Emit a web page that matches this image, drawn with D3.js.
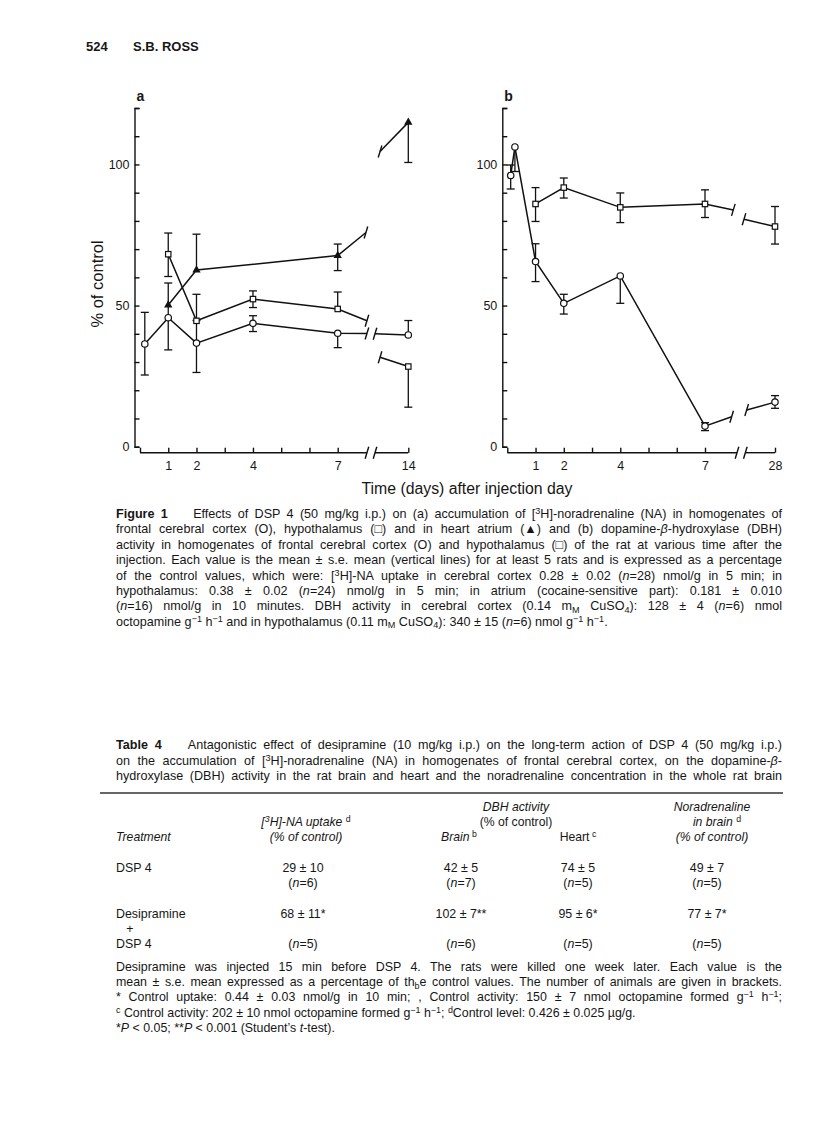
<!DOCTYPE html>
<html>
<head>
<meta charset="utf-8">
<script src="https://cdn.jsdelivr.net/npm/d3@7"></script>
<style>
  body { margin: 0; background: #fff; }
  svg text { font-family: "Liberation Sans", Arial, sans-serif; fill: #161616; white-space: pre; }
</style>
</head>
<body>
<div id="page"></div>
<script>
// ---- panel a : [3H]-NA uptake, % of control ----
var daysCortexA = [0.17, 1, 2, 4, 7, 14];
var cortexA = [36.4, 45.7, 36.7, 43.7, 40.2, 39.6];
var cortexAUp = [11.2, 12.3, 8, 2.7, 0, 5.1];
var cortexADown = [11, 11.4, 10.4, 2.9, 5.1, 0];

var daysHypoA = [1, 2, 4, 7, 14];
var hypoA = [68.2, 44.6, 52.3, 48.8, 28.4];
var hypoAUp = [7.5, 9.4, 2.9, 6, 0];
var hypoADown = [7.9, 0, 3, 0, 14.4];

var daysHeartA = [1, 2, 7, 14];
var heartA = [50.2, 62.6, 67.7, 114.9];
var heartAUp = [0, 12.7, 4.1, 0];
var heartADown = [0, 0, 5.3, 14.2];

// line ends either side of the axis break, [day, value]
var breakCortexA = [[9.9, 40.1], [10.7, 40.0]];
var breakHypoA = [[9.9, 44.6], [11.2, 31.7]];
var breakHeartA = [[9.8, 75.9], [11.2, 104.6]];
var axisBreakA = [9.9, 10.7];

// ---- panel b : DBH activity, % of control ----
var daysCortexB = [0.12, 0.27, 1, 2, 4, 7, 28];
var cortexB = [96.1, 106.2, 65.6, 50.8, 60.5, 7.3, 15.8];
var cortexBUp = [3.7, 0, 6.3, 3.2, 0, 1.2, 2.3];
var cortexBDown = [4.8, 8.7, 7.1, 3.8, 9.7, 1.6, 2.2];

var daysHypoB = [1, 2, 4, 7, 28];
var hypoB = [86, 91.8, 84.8, 86, 78];
var hypoBUp = [5.8, 3.4, 5.1, 5, 7.1];
var hypoBDown = [6.2, 3.7, 5.4, 4.8, 6.2];

var breakCortexB = [[15, 10.6], [19.5, 13]];
var breakHypoB = [[15.5, 83.9], [18.7, 80.6]];
var axisBreakB = [16.6, 19.1];

var yTicks = d3.range(0, 121, 10);
var yLabels = [0, 50, 100];
var xTicksA = [0, 1, 2, 3, 4, 5, 6, 7, 14];
var xLabelsA = [1, 2, 4, 7, 14];
var xTicksB = [0, 1, 2, 3, 4, 5, 6, 7, 28];
var xLabelsB = [1, 2, 4, 7, 28];

// ---- text blocks ----
var figCaption = [
  "<b>Figure 1</b>    Effects of DSP 4 (50 mg/kg i.p.) on (a) accumulation of [<sup>3</sup>H]-noradrenaline (NA) in homogenates of",
  "frontal cerebral cortex (O), hypothalamus (\u25A1) and in heart atrium (\u25B2) and (b) dopamine-<i>\u03B2</i>-hydroxylase (DBH)",
  "activity in homogenates of frontal cerebral cortex (O) and hypothalamus (\u25A1) of the rat at various time after the",
  "injection. Each value is the mean \u00B1 s.e. mean (vertical lines) for at least 5 rats and is expressed as a percentage",
  "of the control values, which were: [<sup>3</sup>H]-NA uptake in cerebral cortex 0.28 \u00B1 0.02 (<i>n</i>=28) nmol/g in 5 min; in",
  "hypothalamus: 0.38 \u00B1 0.02 (<i>n</i>=24) nmol/g in 5 min; in atrium (cocaine-sensitive part): 0.181 \u00B1 0.010",
  "(<i>n</i>=16) nmol/g in 10 minutes. DBH activity in cerebral cortex (0.14 m<sub>M</sub> CuSO<sub>4</sub>): 128 \u00B1 4 (<i>n</i>=6) nmol",
  "octopamine g<sup>\u22121</sup> h<sup>\u22121</sup> and in hypothalamus (0.11 m<sub>M</sub> CuSO<sub>4</sub>): 340 \u00B1 15 (<i>n</i>=6) nmol g<sup>\u22121</sup> h<sup>\u22121</sup>."
];
var tableCaption = [
  "<b>Table 4</b>    Antagonistic effect of desipramine (10 mg/kg i.p.) on the long-term action of DSP 4 (50 mg/kg i.p.)",
  "on the accumulation of [<sup>3</sup>H]-noradrenaline (NA) in homogenates of frontal cerebral cortex, on the dopamine-<i>\u03B2</i>-",
  "hydroxylase (DBH) activity in the rat brain and heart and the noradrenaline concentration in the whole rat brain"
];
var treatments = [["DSP 4"], ["Desipramine", "   +", "DSP 4"]];
var uptake = ["29 \u00B1 10", "68 \u00B1 11*"];
var dbhBrain = ["42 \u00B1 5", "102 \u00B1 7**"];
var dbhHeart = ["74 \u00B1 5", "95 \u00B1 6*"];
var naBrain = ["49 \u00B1 7", "77 \u00B1 7*"];
var nUptake = [6, 5];
var nBrain = [7, 6];
var nHeart = [5, 5];
var nNA = [5, 5];
var footnotes = [
  "Desipramine was injected 15 min before DSP 4. The rats were killed one week later. Each value is the",
  "mean \u00B1 s.e. mean expressed as a percentage of th<sub>b</sub>e control values. The number of animals are given in brackets.",
  "* Control uptake: 0.44 \u00B1 0.03 nmol/g in 10 min; , Control activity: 150 \u00B1 7 nmol octopamine formed g<sup>\u22121</sup> h<sup>\u22121</sup>;",
  "<sup>c</sup> Control activity: 202 \u00B1 10 nmol octopamine formed g<sup>\u22121</sup> h<sup>\u22121</sup>; <sup>d</sup>Control level: 0.426 \u00B1 0.025 \u00B5g/g.",
  "*<i>P</i> &lt; 0.05; **<i>P</i> &lt; 0.001 (Student\u2019s <i>t</i>-test)."
];

var W = 816, H = 1123;
var svg = d3.select("#page").append("svg")
    .attr("width", W)
    .attr("height", H);
svg.append("rect").attr("width", W).attr("height", H).attr("fill", "#fff");

// small markup -> tspans
function rich(sel, str) {
  var parts = str.replace(/&lt;/g, "<<").split(/(<\/?(?:b|i|sup|sub)>)/);
  var st = {b: 0, i: 0, sup: 0, sub: 0}, shift = 0;
  parts.forEach(function(p) {
    if (!p) return;
    var m = p.match(/^<(\/?)(b|i|sup|sub)>$/);
    if (m) { st[m[2]] = m[1] ? 0 : 1; return; }
    var target = st.sup ? -4 : (st.sub ? 2.5 : 0);
    var t = sel.append("tspan").text(p.replace(/<</g, "<")).attr("dy", target - shift);
    shift = target;
    if (st.b) t.attr("font-weight", "bold");
    if (st.i) t.attr("font-style", "italic");
    if (st.sup || st.sub) t.attr("font-size", "0.72em");
  });
}

// justify a line by widening the word gaps
function justify(t, width) {
  var node = t.node();
  var len = node.getComputedTextLength();
  var spaces = (node.textContent.match(/ /g) || []).length;
  if (!spaces) return;
  t.style("word-spacing", ((width - len) / spaces) + "px");
  if (Math.abs(node.getComputedTextLength() - width) > 3) {
    t.style("word-spacing", null)
      .attr("textLength", width).attr("lengthAdjust", "spacing");
  }
}

// flags: which lines are set full width
function paragraph(lines, x, y0, lh, width, size, flags) {
  lines.forEach(function(s, i) {
    var t = svg.append("text")
      .attr("x", x)
      .attr("y", y0 + i * lh)
      .attr("font-size", size);
    rich(t, s);
    if (flags[i]) justify(t, width);
  });
}

// ---- running head ----
svg.append("text").attr("x", 86).attr("y", 51).attr("font-size", 13)
  .attr("font-weight", "bold").text("524");
svg.append("text").attr("x", 133).attr("y", 51).attr("font-size", 13)
  .attr("font-weight", "bold").text("S.B. ROSS");

// ---- chart panels ----
var y = d3.scaleLinear().domain([0, 120]).range([446.7, 108]);
var xA = d3.scaleLinear().domain([0, 7, 14]).range([140, 337.7, 408.3]);
var xB = d3.scaleLinear().domain([0, 7, 28]).range([507.3, 705, 775]);

function zip(days, vals, up, down) {
  return days.map(function(d, i) {
    return {day: d, v: vals[i], up: up[i], down: down[i]};
  });
}

function slash(g, px, py, h) {
  g.append("line")
    .attr("x1", px - h * 0.3).attr("y1", py + h)
    .attr("x2", px + h * 0.3).attr("y2", py - h)
    .attr("stroke", "#111").attr("stroke-width", 1.4);
}

function panel(opts) {
  var x = opts.x;
  var g = svg.append("g");

  // y axis, ticks pointing inside
  var yAxis = d3.axisLeft(y)
    .tickValues(yTicks)
    .tickSize(-5)
    .tickPadding(5)
    .tickFormat(function(d) { return yLabels.indexOf(d) >= 0 ? d : ""; });
  var ya = g.append("g")
    .attr("transform", "translate(" + opts.yAxisX + ",0)")
    .call(yAxis);
  ya.attr("font-family", null).attr("font-size", null);
  ya.selectAll("path, line").attr("stroke", "#111").attr("stroke-width", 1.4);
  ya.selectAll("text").attr("font-size", 12.5).attr("fill", "#161616");

  // x axis, broken
  var axisY = 452.7;
  var xAxis = d3.axisBottom(x)
    .tickValues(opts.xTicks)
    .tickSize(-5)
    .tickPadding(8)
    .tickFormat(function(d) { return opts.xLabels.indexOf(d) >= 0 ? d : ""; });
  var xa = g.append("g")
    .attr("transform", "translate(0," + axisY + ")")
    .call(xAxis);
  xa.attr("font-family", null).attr("font-size", null);
  xa.select(".domain").remove();
  xa.selectAll("line").attr("stroke", "#111").attr("stroke-width", 1.4);
  xa.selectAll("text").attr("font-size", 12.5).attr("fill", "#161616");
  var last = opts.xTicks[opts.xTicks.length - 1];
  [[0, opts.axisBreak[0]], [opts.axisBreak[1], last]].forEach(function(seg) {
    g.append("line")
      .attr("x1", x(seg[0])).attr("x2", x(seg[1]))
      .attr("y1", axisY).attr("y2", axisY)
      .attr("stroke", "#111").attr("stroke-width", 1.4);
  });
  opts.axisBreak.forEach(function(d) { slash(g, x(d), axisY, 6); });

  // panel letter
  g.append("text")
    .attr("x", opts.yAxisX + 2).attr("y", 101)
    .attr("font-size", 14).attr("font-weight", "bold")
    .text(opts.letter);

  var line = d3.line().x(function(d) { return x(d.day); }).y(function(d) { return y(d.v); });

  opts.series.forEach(function(s) {
    var pts = zip(s.days, s.vals, s.up, s.down);
    var n = pts.length;
    var left = pts.slice(0, n - 1).concat([{day: s.brk[0][0], v: s.brk[0][1]}]);
    var right = [{day: s.brk[1][0], v: s.brk[1][1]}, pts[n - 1]];
    [left, right].forEach(function(p) {
      g.append("path").datum(p)
        .attr("d", line)
        .attr("fill", "none")
        .attr("stroke", "#111")
        .attr("stroke-width", 1.5);
    });
    s.brk.forEach(function(b) { slash(g, x(b[0]), y(b[1]), 6); });

    // error bars
    var eb = g.selectAll(null).data(pts).enter().append("g");
    [["up", 1], ["down", -1]].forEach(function(side) {
      var k = side[0], sg = side[1];
      var sub = eb.filter(function(d) { return d[k] > 0; });
      sub.append("line")
        .attr("x1", function(d) { return x(d.day); })
        .attr("x2", function(d) { return x(d.day); })
        .attr("y1", function(d) { return y(d.v); })
        .attr("y2", function(d) { return y(d.v + sg * d[k]); })
        .attr("stroke", "#111").attr("stroke-width", 1.3);
      sub.append("line")
        .attr("x1", function(d) { return x(d.day) - 4; })
        .attr("x2", function(d) { return x(d.day) + 4; })
        .attr("y1", function(d) { return y(d.v + sg * d[k]); })
        .attr("y2", function(d) { return y(d.v + sg * d[k]); })
        .attr("stroke", "#111").attr("stroke-width", 1.3);
    });

    // markers
    var mk = g.selectAll(null).data(pts).enter();
    if (s.shape === "circle") {
      mk.append("circle")
        .attr("cx", function(d) { return x(d.day); })
        .attr("cy", function(d) { return y(d.v); })
        .attr("r", 3.2)
        .attr("fill", "#fff").attr("stroke", "#111").attr("stroke-width", 1.2);
    } else if (s.shape === "square") {
      mk.append("rect")
        .attr("x", function(d) { return x(d.day) - 2.7; })
        .attr("y", function(d) { return y(d.v) - 2.7; })
        .attr("width", 5.4).attr("height", 5.4)
        .attr("fill", "#fff").attr("stroke", "#111").attr("stroke-width", 1.2);
    } else {
      mk.append("path")
        .attr("transform", function(d) { return "translate(" + x(d.day) + "," + y(d.v) + ")"; })
        .attr("d", d3.symbol(d3.symbolTriangle, 30))
        .attr("fill", "#111");
    }
  });
}

panel({
  letter: "a", x: xA, yAxisX: 134.5, xTicks: xTicksA, xLabels: xLabelsA, axisBreak: axisBreakA,
  series: [
    {shape: "circle", days: daysCortexA, vals: cortexA, up: cortexAUp, down: cortexADown, brk: breakCortexA},
    {shape: "square", days: daysHypoA, vals: hypoA, up: hypoAUp, down: hypoADown, brk: breakHypoA},
    {shape: "triangle", days: daysHeartA, vals: heartA, up: heartAUp, down: heartADown, brk: breakHeartA}
  ]
});
panel({
  letter: "b", x: xB, yAxisX: 502.3, xTicks: xTicksB, xLabels: xLabelsB, axisBreak: axisBreakB,
  series: [
    {shape: "circle", days: daysCortexB, vals: cortexB, up: cortexBUp, down: cortexBDown, brk: breakCortexB},
    {shape: "square", days: daysHypoB, vals: hypoB, up: hypoBUp, down: hypoBDown, brk: breakHypoB}
  ]
});

// axis titles
svg.append("text")
  .attr("transform", "translate(103,284) rotate(-90)")
  .attr("text-anchor", "middle")
  .attr("font-size", 16.5)
  .text("% of control");
svg.append("text")
  .attr("x", 467).attr("y", 494)
  .attr("text-anchor", "middle")
  .attr("font-size", 15.8)
  .text("Time (days) after injection day");

// ---- figure legend ----
paragraph(figCaption, 116, 518, 15.4, 666, 12.6, [1, 1, 1, 1, 1, 1, 1, 0]);

// ---- table 4 ----
paragraph(tableCaption, 116, 749, 15.6, 666, 12.6, [1, 1, 1]);

svg.append("line")
  .attr("x1", 100).attr("x2", 783)
  .attr("y1", 793).attr("y2", 793)
  .attr("stroke", "#333").attr("stroke-width", 1.3);

var colUp = 303, colBrain = 461, colHeart = 578, colNA = 707, colDBH = 516;
function cell(x, yy, str, anchor, size) {
  var t = svg.append("text").attr("x", x).attr("y", yy)
    .attr("text-anchor", anchor || "middle")
    .attr("font-size", size || 12.2);
  rich(t, str);
}
cell(colDBH, 811, "<i>DBH activity</i>");
cell(colNA + 5, 811, "<i>Noradrenaline</i>");
cell(colUp + 3, 826, "<i>[<sup>3</sup>H]-NA uptake </i><sup>d</sup>");
cell(colDBH, 826, "(% of control)");
cell(colNA + 10, 826, "<i>in brain </i><sup>d</sup>");
cell(116, 841, "<i>Treatment</i>", "start");
cell(colUp + 3, 841, "<i>(% of control)</i>");
cell(colBrain - 2, 841, "<i>Brain</i><sup> b</sup>");
cell(colHeart, 841, "Heart<sup> c</sup>");
cell(colNA + 5, 841, "<i>(% of control)</i>");

var rowY = [[872, 887], [918, 948]];
treatments.forEach(function(lines, i) {
  lines.forEach(function(s, j) {
    cell(116, rowY[i][0] + j * 15, s, "start", 12.4);
  });
  var yv = rowY[i][0], yn = rowY[i][1];
  cell(colUp, yv, uptake[i], "middle", 12.4);
  cell(colBrain, yv, dbhBrain[i], "middle", 12.4);
  cell(colHeart, yv, dbhHeart[i], "middle", 12.4);
  cell(colNA, yv, naBrain[i], "middle", 12.4);
  cell(colUp, yn, "(<i>n</i>=" + nUptake[i] + ")", "middle", 12.4);
  cell(colBrain, yn, "(<i>n</i>=" + nBrain[i] + ")", "middle", 12.4);
  cell(colHeart, yn, "(<i>n</i>=" + nHeart[i] + ")", "middle", 12.4);
  cell(colNA, yn, "(<i>n</i>=" + nNA[i] + ")", "middle", 12.4);
});

// footnotes: first three lines full width, the last two left ragged
paragraph(footnotes, 116, 971, 15.2, 666, 12.4, [1, 1, 1, 0, 0]);
</script>
</body>
</html>
